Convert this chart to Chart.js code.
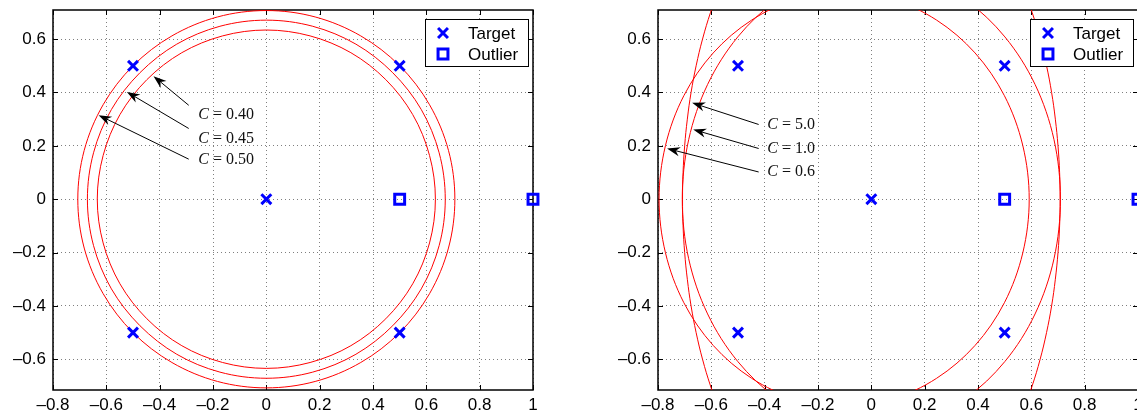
<!DOCTYPE html>
<html><head><meta charset="utf-8">
<script src="https://cdn.jsdelivr.net/npm/chart.js@4/dist/chart.umd.min.js"></script>
<style>
html,body{margin:0;padding:0;background:#fff;overflow:hidden;width:1137px;height:418px;}
#wrap{position:relative;width:1137px;height:418px;overflow:hidden;background:#fff;}
canvas{position:absolute;top:0;}
#c1{left:0;} #c2{left:605px;}
</style></head><body>
<div id="wrap"><canvas id="c1" width="560" height="418"></canvas><canvas id="c2" width="560" height="418"></canvas></div>
<script>
// ---- tick values / labels ----
const xTicks = [-0.8,-0.6,-0.4,-0.2,0,0.2,0.4,0.6,0.8,1];
const xTickLabels = ['\u20130.8','\u20130.6','\u20130.4','\u20130.2','0','0.2','0.4','0.6','0.8','1'];
const yTicks = [-0.6,-0.4,-0.2,0,0.2,0.4,0.6];
const yTickLabels = ['\u20130.6','\u20130.4','\u20130.2','0','0.2','0.4','0.6'];

// ---- data points ----
const targetX = [-0.5, 0.5, 0, -0.5, 0.5];
const targetY = [0.5, 0.5, 0, -0.5, -0.5];
const outlierX = [0.5, 1];
const outlierY = [0, 0];

// ---- left panel boundaries ----
const boundaryC040 = [[0.634,0],[0.612,0.164],[0.549,0.317],[0.448,0.448],[0.317,0.549],[0.164,0.612],[0,0.634],[-0.164,0.612],[-0.317,0.549],[-0.448,0.448],[-0.549,0.317],[-0.612,0.164],[-0.634,0],[-0.612,-0.164],[-0.549,-0.317],[-0.448,-0.448],[-0.317,-0.549],[-0.164,-0.612],[0,-0.634],[0.164,-0.612],[0.317,-0.549],[0.448,-0.448],[0.549,-0.317],[0.612,-0.164],[0.634,0]];
const boundaryC045 = [[0.671,0],[0.648,0.174],[0.581,0.336],[0.474,0.474],[0.336,0.581],[0.174,0.648],[0,0.671],[-0.174,0.648],[-0.336,0.581],[-0.474,0.474],[-0.581,0.336],[-0.648,0.174],[-0.671,0],[-0.648,-0.174],[-0.581,-0.336],[-0.474,-0.474],[-0.336,-0.581],[-0.174,-0.648],[0,-0.671],[0.174,-0.648],[0.336,-0.581],[0.474,-0.474],[0.581,-0.336],[0.648,-0.174],[0.671,0]];
const boundaryC050 = [[0.707,0],[0.683,0.183],[0.612,0.354],[0.5,0.5],[0.354,0.612],[0.183,0.683],[0,0.707],[-0.183,0.683],[-0.354,0.612],[-0.5,0.5],[-0.612,0.354],[-0.683,0.183],[-0.707,0],[-0.683,-0.183],[-0.612,-0.354],[-0.5,-0.5],[-0.354,-0.612],[-0.183,-0.683],[0,-0.707],[0.183,-0.683],[0.354,-0.612],[0.5,-0.5],[0.612,-0.354],[0.683,-0.183],[0.707,0]];

// ---- right panel boundaries ----
const boundaryC06 = [[0.592,0],[0.568,0.201],[0.499,0.388],[0.389,0.548],[0.245,0.671],[0.078,0.749],[-0.102,0.775],[-0.282,0.749],[-0.449,0.671],[-0.593,0.548],[-0.703,0.388],[-0.772,0.201],[-0.796,0],[-0.772,-0.201],[-0.703,-0.388],[-0.593,-0.548],[-0.449,-0.671],[-0.282,-0.749],[-0.102,-0.775],[0.078,-0.749],[0.245,-0.671],[0.389,-0.548],[0.499,-0.388],[0.568,-0.201],[0.592,0]];
const boundaryC10 = [[0.709,0],[0.685,0.223],[0.614,0.43],[0.501,0.608],[0.355,0.745],[0.184,0.831],[0,0.86],[-0.184,0.831],[-0.355,0.745],[-0.501,0.608],[-0.614,0.43],[-0.685,0.223],[-0.709,0],[-0.685,-0.223],[-0.614,-0.43],[-0.501,-0.608],[-0.355,-0.745],[-0.184,-0.831],[0,-0.86],[0.184,-0.831],[0.355,-0.745],[0.501,-0.608],[0.614,-0.43],[0.685,-0.223],[0.709,0]];
const boundaryC50 = [[0,1.34],[0.47,1.0],[0.524,0.9],[0.567,0.8],[0.603,0.7],[0.633,0.6],[0.657,0.5],[0.676,0.4],[0.69,0.3],[0.7,0.2],[0.706,0.1],[0.708,0],[0.706,-0.1],[0.7,-0.2],[0.69,-0.3],[0.676,-0.4],[0.657,-0.5],[0.633,-0.6],[0.603,-0.7],[0.567,-0.8],[0.524,-0.9],[0.47,-1.0],[0,-1.34],[-0.47,-1.0],[-0.524,-0.9],[-0.567,-0.8],[-0.603,-0.7],[-0.633,-0.6],[-0.657,-0.5],[-0.676,-0.4],[-0.69,-0.3],[-0.7,-0.2],[-0.706,-0.1],[-0.708,0],[-0.706,0.1],[-0.7,0.2],[-0.69,0.3],[-0.676,0.4],[-0.657,0.5],[-0.633,0.6],[-0.603,0.7],[-0.567,0.8],[-0.524,0.9],[-0.47,1.0],[0,1.34]];

// ---- annotations (data coordinates) ----
const leftNotes = [
  {value:'0.40', tip:[-0.423,0.461], tail:[-0.291,0.352], label:[-0.255,0.315]},
  {value:'0.45', tip:[-0.523,0.402], tail:[-0.291,0.265], label:[-0.255,0.228]},
  {value:'0.50', tip:[-0.629,0.315], tail:[-0.291,0.150], label:[-0.255,0.149]}
];
const rightNotes = [
  {value:'5.0', tip:[-0.672,0.361], tail:[-0.4225,0.280], label:[-0.39,0.280]},
  {value:'1.0', tip:[-0.668,0.261], tail:[-0.4225,0.190], label:[-0.39,0.190]},
  {value:'0.6', tip:[-0.766,0.190], tail:[-0.4225,0.102], label:[-0.39,0.102]}
];

const SANS = '"Liberation Sans", Arial, Helvetica, sans-serif';
const SERIF = '"Liberation Serif", "Times New Roman", serif';
Chart.defaults.color = '#000';
Chart.defaults.font.family = SANS;

const toXY = (xs, ys) => xs.map((v, i) => ({x: v, y: ys[i]}));
// closed curves: one read point is repeated on each end so the spline is smooth at the seam;
// the two helper end segments are made invisible through segment styling.
const isClosed = arr => arr[0][0] === arr[arr.length - 1][0] && arr[0][1] === arr[arr.length - 1][1];
const toPts = arr => {
  const seq = isClosed(arr) ? [arr[arr.length - 2]].concat(arr, [arr[1]]) : arr;
  return seq.map(p => ({x: p[0], y: p[1]}));
};

function drawLegend(chart) {
  const {ctx, chartArea: a} = chart;
  const w = 103, h = 47;
  const bx = Math.round(a.right - 5 - w), by = Math.round(a.top + 9);
  ctx.save();
  ctx.fillStyle = '#fff';
  ctx.fillRect(bx, by, w, h);
  ctx.strokeStyle = '#000'; ctx.lineWidth = 1;
  ctx.strokeRect(bx + 0.5, by + 0.5, w, h);
  const ds = chart.data.datasets;
  [0, 1].forEach((i, k) => {
    const d = ds[i];
    const cx = bx + 18, cy = by + 14 + k * 21;
    ctx.strokeStyle = d.borderColor; ctx.fillStyle = d.backgroundColor; ctx.lineWidth = d.pointBorderWidth;
    Chart.helpers.drawPoint(ctx, {pointStyle: d.pointStyle, radius: d.pointRadius, rotation: 0, borderWidth: d.pointBorderWidth}, cx, cy);
    ctx.fillStyle = '#000';
    ctx.font = '17px ' + SANS;
    ctx.textBaseline = 'middle'; ctx.textAlign = 'left';
    ctx.fillText(d.label, bx + 43, cy + 1);
  });
  ctx.restore();
}

function drawNotes(chart, notes) {
  const {ctx, scales: {x, y}} = chart;
  ctx.save();
  notes.forEach(n => {
    const tx = x.getPixelForValue(n.tip[0]), ty = y.getPixelForValue(n.tip[1]);
    const sx = x.getPixelForValue(n.tail[0]), sy = y.getPixelForValue(n.tail[1]);
    const ang = Math.atan2(ty - sy, tx - sx);
    const ux = Math.cos(ang), uy = Math.sin(ang), px = -uy, py = ux;
    const L = 13, W = 4.6, N = 9;
    ctx.strokeStyle = '#000'; ctx.lineWidth = 1;
    ctx.beginPath(); ctx.moveTo(sx, sy); ctx.lineTo(tx - ux * N, ty - uy * N); ctx.stroke();
    ctx.fillStyle = '#000';
    ctx.beginPath();
    ctx.moveTo(tx, ty);
    ctx.lineTo(tx - ux * L + px * W, ty - uy * L + py * W);
    ctx.lineTo(tx - ux * N, ty - uy * N);
    ctx.lineTo(tx - ux * L - px * W, ty - uy * L - py * W);
    ctx.closePath(); ctx.fill();
    // label
    const lx = x.getPixelForValue(n.label[0]), ly = y.getPixelForValue(n.label[1]);
    ctx.fillStyle = '#111';
    ctx.textBaseline = 'middle'; ctx.textAlign = 'left';
    ctx.font = 'italic 16px ' + SERIF;
    ctx.fillText('C', lx, ly);
    let cx = lx + ctx.measureText('C').width + 4;
    ctx.font = '16px ' + SERIF;
    ctx.fillText('=', cx, ly);
    cx += ctx.measureText('=').width + 4;
    ctx.fillText(n.value, cx, ly);
  });
  ctx.restore();
}

function makePlugin(notes) {
  return {
    id: 'frameNotes',
    beforeDatasetsDraw(chart) {
      const {ctx, chartArea: a, scales: {x, y}} = chart;
      ctx.save();
      ctx.strokeStyle = '#000';
      ctx.lineWidth = 1;
      const tl = 5;
      ctx.beginPath();
      xTicks.forEach(v => {
        const p = Math.round(x.getPixelForValue(v)) + 0.5;
        ctx.moveTo(p, a.bottom); ctx.lineTo(p, a.bottom - tl);
        ctx.moveTo(p, a.top); ctx.lineTo(p, a.top + tl);
      });
      yTicks.forEach(v => {
        const p = Math.round(y.getPixelForValue(v)) + 0.5;
        ctx.moveTo(a.left, p); ctx.lineTo(a.left + tl, p);
        ctx.moveTo(a.right, p); ctx.lineTo(a.right - tl, p);
      });
      ctx.stroke();
      ctx.lineWidth = 1.5;
      ctx.strokeRect(a.left, a.top, a.right - a.left, a.bottom - a.top);
      ctx.restore();
    },
    afterDatasetsDraw(chart) {
      drawNotes(chart, notes);
      drawLegend(chart);
    }
  };
}

function curveDataset(c) {
  const data = toPts(c.points);
  const closed = isClosed(c.points);
  const last = data.length - 1;
  return {
    label: c.label, data, showLine: true, pointRadius: 0, borderColor: '#ff0000',
    backgroundColor: '#ff0000', borderWidth: 1, tension: c.tension, fill: false,
    segment: {
      borderColor: ctx => (closed && (ctx.p0DataIndex === 0 || ctx.p1DataIndex === last)) ? 'rgba(0,0,0,0)' : undefined
    }
  };
}

function makeChart(id, curves, notes) {
  const datasets = [
    {label: 'Target', data: toXY(targetX, targetY), pointStyle: 'crossRot', pointRadius: 7, pointBorderWidth: 3, borderWidth: 3,
     borderColor: '#0000ff', backgroundColor: '#0000ff', clip: false, showLine: false},
    {label: 'Outlier', data: toXY(outlierX, outlierY), pointStyle: 'rect', pointRadius: 7, pointBorderWidth: 3, borderWidth: 3,
     borderColor: '#0000ff', backgroundColor: 'rgba(0,0,0,0)', clip: false, showLine: false}
  ].concat(curves.map(curveDataset));
  const tickFont = {family: SANS, size: 17};
  return new Chart(document.getElementById(id), {
    type: 'scatter',
    data: {datasets},
    options: {
      responsive: false, animation: false, events: [],
      layout: {padding: {left: 0, right: 27, top: 10, bottom: 0}},
      elements: {line: {capBezierPoints: false}},
      plugins: {legend: {display: false}, tooltip: {enabled: false}},
      scales: {
        x: {
          type: 'linear', min: -0.8, max: 1,
          afterBuildTicks: s => { s.ticks = xTicks.map(v => ({value: v})); },
          afterFit: s => { s.height = 28; s.paddingLeft = 0; s.paddingRight = 0; },
          ticks: {autoSkip: false, maxRotation: 0, padding: 5, font: tickFont, color: '#000',
                  callback: v => xTickLabels[xTicks.indexOf(v)]},
          grid: {color: 'rgba(0,0,0,0.5)', lineWidth: 1, drawTicks: false},
          border: {display: false, dash: [1, 3]}
        },
        y: {
          type: 'linear', min: -0.715, max: 0.709,
          afterBuildTicks: s => { s.ticks = yTicks.map(v => ({value: v})); },
          afterFit: s => { s.width = 53; s.paddingTop = 0; s.paddingBottom = 0; },
          ticks: {autoSkip: false, padding: 7, font: tickFont, color: '#000',
                  callback: v => yTickLabels[yTicks.indexOf(v)]},
          grid: {color: 'rgba(0,0,0,0.5)', lineWidth: 1, drawTicks: false},
          border: {display: false, dash: [1, 3]}
        }
      }
    },
    plugins: [makePlugin(notes)]
  });
}

makeChart('c1', [
  {label: 'C = 0.40', points: boundaryC040, tension: 0.34},
  {label: 'C = 0.45', points: boundaryC045, tension: 0.34},
  {label: 'C = 0.50', points: boundaryC050, tension: 0.34}
], leftNotes);

makeChart('c2', [
  {label: 'C = 5.0', points: boundaryC50, tension: 0.4},
  {label: 'C = 1.0', points: boundaryC10, tension: 0.34},
  {label: 'C = 0.6', points: boundaryC06, tension: 0.34}
], rightNotes);
</script>
</body></html>
